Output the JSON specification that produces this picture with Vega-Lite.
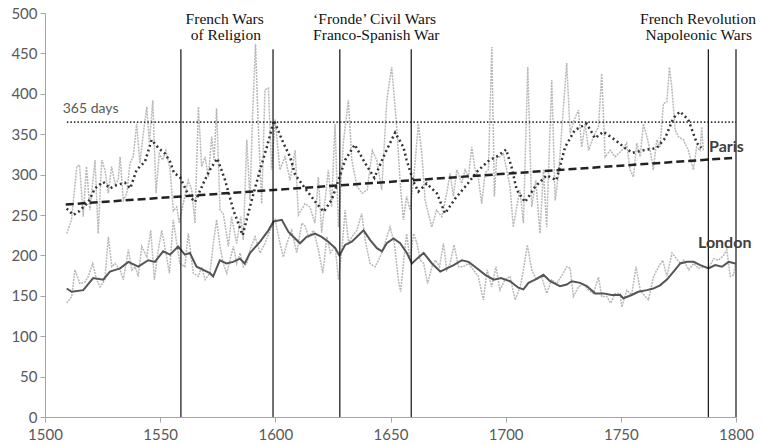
{
  "$schema": "https://vega.github.io/schema/vega-lite/v6.json",
  "width": 691,
  "height": 404,
  "autosize": "none",
  "padding": {"left": 45, "top": 13, "right": 28, "bottom": 28},
  "background": "white",
  "config": {
    "view": {"stroke": null},
    "axis": {"grid": false, "domainColor": "#a6a6a6", "tickColor": "#a6a6a6", "labelColor": "#595959", "labelFont": "Lato", "labelFontSize": 15, "title": null, "tickSize": 5, "labelPadding": 3, "labelFlush": false, "labelOverlap": false}
  },
  "datasets": {
    "parisAnnual": [
      {"year":1509.4,"value":227},{"year":1511.5,"value":244},{"year":1513.8,"value":310},{"year":1515,"value":312},{"year":1516.6,"value":248},{"year":1518,"value":310},{"year":1519.5,"value":256},{"year":1521.7,"value":318},{"year":1523.1,"value":227},{"year":1524.6,"value":318},{"year":1526,"value":306},{"year":1527.5,"value":277},{"year":1528.9,"value":310},{"year":1530.4,"value":289},{"year":1531.8,"value":293},{"year":1532.6,"value":322},{"year":1534,"value":268},{"year":1535.5,"value":277},{"year":1536.9,"value":314},{"year":1538.3,"value":322},{"year":1539.8,"value":363},{"year":1541.2,"value":314},{"year":1542.7,"value":351},{"year":1544.2,"value":384},{"year":1545.3,"value":339},{"year":1546.8,"value":392},{"year":1548.2,"value":277},{"year":1549.6,"value":326},{"year":1551.1,"value":318},{"year":1552.5,"value":330},{"year":1554.3,"value":306},{"year":1555.7,"value":255},{"year":1557.2,"value":260},{"year":1558.3,"value":240},{"year":1560,"value":264},{"year":1562.2,"value":293},{"year":1563.7,"value":281},{"year":1565.1,"value":240},{"year":1566.6,"value":384},{"year":1568,"value":310},{"year":1569.5,"value":322},{"year":1570.9,"value":297},{"year":1572.4,"value":347},{"year":1573.4,"value":318},{"year":1574.5,"value":382},{"year":1576,"value":256},{"year":1577.4,"value":252},{"year":1579.6,"value":211},{"year":1581,"value":248},{"year":1583.2,"value":215},{"year":1585,"value":248},{"year":1586.1,"value":219},{"year":1587.6,"value":343},{"year":1589,"value":269},{"year":1590.1,"value":372},{"year":1591.4,"value":462},{"year":1592.6,"value":359},{"year":1594.1,"value":264},{"year":1595.5,"value":405},{"year":1597,"value":407},{"year":1598.4,"value":306},{"year":1599.9,"value":368},{"year":1602,"value":306},{"year":1604.2,"value":322},{"year":1606.4,"value":293},{"year":1608.6,"value":330},{"year":1610,"value":250},{"year":1612.9,"value":264},{"year":1615,"value":260},{"year":1617.2,"value":240},{"year":1618.7,"value":297},{"year":1620.1,"value":228},{"year":1623,"value":306},{"year":1624.4,"value":260},{"year":1625.9,"value":363},{"year":1627.4,"value":235},{"year":1629.5,"value":339},{"year":1631.7,"value":392},{"year":1633.2,"value":318},{"year":1635.5,"value":285},{"year":1637.7,"value":277},{"year":1639.9,"value":281},{"year":1642.1,"value":330},{"year":1644,"value":318},{"year":1646.2,"value":281},{"year":1648.4,"value":392},{"year":1650.5,"value":433},{"year":1652.7,"value":359},{"year":1654.2,"value":290},{"year":1655.6,"value":244},{"year":1657,"value":273},{"year":1658.5,"value":256},{"year":1660,"value":293},{"year":1662.1,"value":363},{"year":1663.6,"value":326},{"year":1665,"value":269},{"year":1666.4,"value":252},{"year":1667.9,"value":235},{"year":1670,"value":256},{"year":1672.3,"value":248},{"year":1674.4,"value":277},{"year":1675.9,"value":302},{"year":1677.3,"value":273},{"year":1678.8,"value":306},{"year":1680.9,"value":289},{"year":1682.4,"value":306},{"year":1683.8,"value":297},{"year":1685.3,"value":334},{"year":1686.7,"value":306},{"year":1688.1,"value":297},{"year":1689.6,"value":264},{"year":1691.1,"value":302},{"year":1692.5,"value":306},{"year":1694,"value":458},{"year":1695.1,"value":273},{"year":1696.1,"value":322},{"year":1697.5,"value":322},{"year":1699,"value":326},{"year":1701.9,"value":285},{"year":1703.3,"value":235},{"year":1704.8,"value":260},{"year":1706.2,"value":281},{"year":1707.7,"value":240},{"year":1709.6,"value":433},{"year":1711.3,"value":260},{"year":1713.1,"value":293},{"year":1714.9,"value":227},{"year":1716.4,"value":306},{"year":1717.8,"value":235},{"year":1720,"value":417},{"year":1721.5,"value":268},{"year":1723,"value":302},{"year":1725,"value":380},{"year":1726.5,"value":438},{"year":1728,"value":351},{"year":1729.8,"value":368},{"year":1731.6,"value":380},{"year":1733,"value":334},{"year":1734.5,"value":363},{"year":1736,"value":330},{"year":1738.1,"value":347},{"year":1740.3,"value":359},{"year":1741.7,"value":425},{"year":1743.2,"value":322},{"year":1745.4,"value":330},{"year":1747.5,"value":322},{"year":1750.4,"value":330},{"year":1752.5,"value":339},{"year":1754,"value":306},{"year":1755.5,"value":297},{"year":1756.9,"value":339},{"year":1758.4,"value":322},{"year":1759.8,"value":363},{"year":1761.3,"value":347},{"year":1762.7,"value":330},{"year":1764.1,"value":306},{"year":1765.6,"value":343},{"year":1767,"value":334},{"year":1768.5,"value":388},{"year":1770,"value":390},{"year":1771.1,"value":433},{"year":1772.1,"value":409},{"year":1773.6,"value":355},{"year":1775,"value":347},{"year":1777.2,"value":343},{"year":1779.3,"value":330},{"year":1781.5,"value":306},{"year":1782.9,"value":334},{"year":1784.4,"value":330},{"year":1785.1,"value":359},{"year":1785.8,"value":330}
    ],
    "londonAnnual": [
      {"year":1509.4,"value":141},{"year":1511.6,"value":149},{"year":1513,"value":182},{"year":1515.2,"value":165},{"year":1517.4,"value":167},{"year":1518.8,"value":174},{"year":1520.7,"value":190},{"year":1522.4,"value":170},{"year":1523.9,"value":161},{"year":1526,"value":170},{"year":1527.5,"value":223},{"year":1529,"value":186},{"year":1530.4,"value":190},{"year":1532.6,"value":182},{"year":1534,"value":170},{"year":1536.2,"value":207},{"year":1537.7,"value":182},{"year":1539.1,"value":186},{"year":1540.5,"value":174},{"year":1542,"value":211},{"year":1544.2,"value":198},{"year":1545.9,"value":231},{"year":1547.5,"value":170},{"year":1549.2,"value":207},{"year":1550.7,"value":231},{"year":1552.5,"value":203},{"year":1554,"value":178},{"year":1555.7,"value":244},{"year":1557.2,"value":215},{"year":1558.6,"value":190},{"year":1560.7,"value":186},{"year":1562.2,"value":227},{"year":1564.4,"value":178},{"year":1566.6,"value":174},{"year":1568,"value":186},{"year":1569.5,"value":170},{"year":1571.6,"value":178},{"year":1573.1,"value":215},{"year":1574.5,"value":244},{"year":1576,"value":211},{"year":1577.4,"value":190},{"year":1578.9,"value":178},{"year":1580.3,"value":194},{"year":1581.8,"value":211},{"year":1583.2,"value":190},{"year":1584.7,"value":203},{"year":1586.1,"value":186},{"year":1587.6,"value":190},{"year":1589,"value":207},{"year":1591.2,"value":223},{"year":1593.4,"value":203},{"year":1595.5,"value":215},{"year":1597.7,"value":231},{"year":1599.9,"value":244},{"year":1602,"value":215},{"year":1603.5,"value":198},{"year":1605,"value":215},{"year":1607.1,"value":231},{"year":1609.3,"value":203},{"year":1611.5,"value":240},{"year":1613,"value":236},{"year":1614.4,"value":223},{"year":1616.6,"value":231},{"year":1618.7,"value":207},{"year":1620.6,"value":178},{"year":1622.4,"value":223},{"year":1623.9,"value":203},{"year":1626,"value":211},{"year":1627.4,"value":170},{"year":1628.9,"value":207},{"year":1630.3,"value":256},{"year":1631.8,"value":215},{"year":1633.2,"value":223},{"year":1635.4,"value":231},{"year":1637.5,"value":252},{"year":1639,"value":219},{"year":1641.1,"value":190},{"year":1643.3,"value":186},{"year":1645.5,"value":198},{"year":1647.6,"value":215},{"year":1649.8,"value":235},{"year":1651.7,"value":215},{"year":1653.4,"value":170},{"year":1654.4,"value":155},{"year":1655.9,"value":198},{"year":1657,"value":227},{"year":1658.5,"value":194},{"year":1660,"value":227},{"year":1661.5,"value":215},{"year":1662.9,"value":194},{"year":1664.4,"value":190},{"year":1666.1,"value":165},{"year":1668,"value":186},{"year":1669.5,"value":194},{"year":1671.3,"value":186},{"year":1673,"value":215},{"year":1674.4,"value":182},{"year":1675.9,"value":190},{"year":1677.6,"value":213},{"year":1679.5,"value":186},{"year":1681.6,"value":186},{"year":1683.8,"value":190},{"year":1686,"value":182},{"year":1688.1,"value":174},{"year":1690.3,"value":145},{"year":1692,"value":182},{"year":1693.9,"value":161},{"year":1695.8,"value":186},{"year":1697.5,"value":157},{"year":1699.7,"value":170},{"year":1701.9,"value":174},{"year":1704.1,"value":145},{"year":1706.3,"value":161},{"year":1707.7,"value":182},{"year":1709.4,"value":213},{"year":1711.3,"value":182},{"year":1713.4,"value":170},{"year":1715.6,"value":174},{"year":1717.8,"value":153},{"year":1720,"value":170},{"year":1722.1,"value":165},{"year":1725,"value":178},{"year":1726.5,"value":186},{"year":1728,"value":184},{"year":1729.4,"value":149},{"year":1731.6,"value":161},{"year":1733.7,"value":165},{"year":1735.9,"value":157},{"year":1738.1,"value":153},{"year":1740.3,"value":173},{"year":1741.7,"value":149},{"year":1743.9,"value":149},{"year":1745.6,"value":141},{"year":1747.5,"value":153},{"year":1749.7,"value":153},{"year":1750.4,"value":136},{"year":1752.6,"value":157},{"year":1754.7,"value":151},{"year":1756.6,"value":186},{"year":1758.4,"value":157},{"year":1760.6,"value":149},{"year":1762,"value":145},{"year":1764.2,"value":174},{"year":1766.4,"value":186},{"year":1768.2,"value":194},{"year":1770,"value":174},{"year":1772.2,"value":203},{"year":1773.6,"value":198},{"year":1775.8,"value":190},{"year":1777.3,"value":194},{"year":1779.5,"value":182},{"year":1781.6,"value":190},{"year":1783.8,"value":184},{"year":1786,"value":186},{"year":1788,"value":184},{"year":1790.3,"value":196},{"year":1792.4,"value":194},{"year":1794.6,"value":200},{"year":1796,"value":207},{"year":1797.5,"value":174},{"year":1799,"value":176},{"year":1799.7,"value":190}
    ],
    "parisMA": [
      {"year":1509.4,"value":258},{"year":1512.3,"value":250},{"year":1515,"value":255},{"year":1518.8,"value":266},{"year":1521.7,"value":283},{"year":1525.3,"value":291},{"year":1528.2,"value":283},{"year":1531,"value":287},{"year":1534.7,"value":290},{"year":1537,"value":283},{"year":1539.8,"value":306},{"year":1543.4,"value":316},{"year":1546.3,"value":343},{"year":1549.2,"value":333},{"year":1552.1,"value":326},{"year":1554.3,"value":316},{"year":1556,"value":302},{"year":1558.6,"value":297},{"year":1562.2,"value":275},{"year":1565.1,"value":266},{"year":1568.7,"value":289},{"year":1571.6,"value":306},{"year":1574.8,"value":320},{"year":1578.2,"value":293},{"year":1581.8,"value":256},{"year":1585.8,"value":225},{"year":1589.8,"value":269},{"year":1593.4,"value":306},{"year":1596.3,"value":334},{"year":1599.4,"value":367},{"year":1603.5,"value":339},{"year":1606.4,"value":322},{"year":1608.6,"value":300},{"year":1612.9,"value":283},{"year":1618,"value":264},{"year":1621,"value":254},{"year":1624.5,"value":269},{"year":1627.4,"value":293},{"year":1630.3,"value":318},{"year":1634.5,"value":337},{"year":1639,"value":314},{"year":1643,"value":296},{"year":1647.6,"value":326},{"year":1650.5,"value":343},{"year":1652,"value":352},{"year":1655.6,"value":334},{"year":1657,"value":318},{"year":1660,"value":291},{"year":1662.1,"value":279},{"year":1665.7,"value":289},{"year":1670.1,"value":277},{"year":1673.7,"value":252},{"year":1678,"value":270},{"year":1683,"value":287},{"year":1688,"value":305},{"year":1693,"value":318},{"year":1696,"value":322},{"year":1700.2,"value":331},{"year":1702.5,"value":310},{"year":1704.8,"value":281},{"year":1708.4,"value":266},{"year":1712.8,"value":285},{"year":1717.8,"value":299},{"year":1722,"value":293},{"year":1725.8,"value":334},{"year":1730,"value":355},{"year":1735.2,"value":363},{"year":1738.8,"value":345},{"year":1742.4,"value":353},{"year":1747.5,"value":343},{"year":1751.8,"value":333},{"year":1755,"value":327},{"year":1759.7,"value":330},{"year":1765.6,"value":333},{"year":1769.2,"value":345},{"year":1772.8,"value":370},{"year":1775.7,"value":378},{"year":1779.3,"value":368},{"year":1783,"value":339},{"year":1785,"value":333}
    ],
    "londonMA": [
      {"year":1509.4,"value":159},{"year":1511.6,"value":155},{"year":1516.6,"value":157},{"year":1520.9,"value":172},{"year":1525.3,"value":170},{"year":1528.2,"value":180},{"year":1532.6,"value":184},{"year":1536.2,"value":192},{"year":1540.5,"value":186},{"year":1544.8,"value":194},{"year":1547.7,"value":192},{"year":1551.3,"value":205},{"year":1554.3,"value":201},{"year":1557.8,"value":211},{"year":1560.7,"value":201},{"year":1562.9,"value":203},{"year":1565.8,"value":186},{"year":1568.7,"value":182},{"year":1571.6,"value":178},{"year":1573,"value":174},{"year":1575.9,"value":194},{"year":1578.8,"value":190},{"year":1581.7,"value":192},{"year":1584.6,"value":196},{"year":1586.7,"value":190},{"year":1589,"value":203},{"year":1593.4,"value":217},{"year":1597,"value":231},{"year":1599.2,"value":242},{"year":1602.8,"value":244},{"year":1605.7,"value":229},{"year":1607.8,"value":223},{"year":1610.7,"value":215},{"year":1613.6,"value":223},{"year":1617.2,"value":227},{"year":1620.1,"value":223},{"year":1623,"value":217},{"year":1626,"value":209},{"year":1627.8,"value":200},{"year":1630.3,"value":213},{"year":1633.2,"value":217},{"year":1636.1,"value":225},{"year":1638.3,"value":231},{"year":1641.2,"value":219},{"year":1644.1,"value":209},{"year":1646.3,"value":205},{"year":1648.4,"value":215},{"year":1651.3,"value":221},{"year":1654.2,"value":215},{"year":1657.1,"value":203},{"year":1659.3,"value":190},{"year":1661.5,"value":196},{"year":1664.4,"value":203},{"year":1668,"value":190},{"year":1671.6,"value":180},{"year":1674.5,"value":184},{"year":1677.4,"value":188},{"year":1681,"value":194},{"year":1683.9,"value":192},{"year":1687.5,"value":184},{"year":1691.1,"value":176},{"year":1694.8,"value":170},{"year":1698,"value":172},{"year":1701.9,"value":168},{"year":1705.5,"value":160},{"year":1707.7,"value":158},{"year":1709.9,"value":166},{"year":1712.8,"value":170},{"year":1716.4,"value":176},{"year":1719.3,"value":168},{"year":1723.6,"value":162},{"year":1726.5,"value":164},{"year":1728.7,"value":168},{"year":1732.3,"value":166},{"year":1735.2,"value":162},{"year":1738.8,"value":153},{"year":1742.4,"value":153},{"year":1746,"value":151},{"year":1749.7,"value":151},{"year":1751.1,"value":147},{"year":1754.7,"value":151},{"year":1757.6,"value":155},{"year":1761.3,"value":157},{"year":1764.1,"value":159},{"year":1767,"value":163},{"year":1770,"value":170},{"year":1772.9,"value":180},{"year":1775.8,"value":190},{"year":1778.7,"value":192},{"year":1781.6,"value":192},{"year":1784.5,"value":188},{"year":1788.1,"value":184},{"year":1791,"value":188},{"year":1793.9,"value":186},{"year":1796.8,"value":192},{"year":1799.7,"value":190}
    ],
    "trend": [{"year":1509,"value":263},{"year":1800,"value":321}],
    "days365": [{"year":1509.5,"value":365},{"year":1800,"value":365}],
    "wars": [{"year":1559,"bottom":0,"top":455},{"year":1599,"bottom":0,"top":455},{"year":1628,"bottom":0,"top":455},{"year":1659,"bottom":0,"top":455},{"year":1788,"bottom":0,"top":455},{"year":1800,"bottom":0,"top":455}],
    "titlesCenter": [
      {"year":1578,"value":487,"label":"French Wars"},
      {"year":1578.5,"value":466,"label":"of Religion"},
      {"year":1783.5,"value":487,"label":"French Revolution"},
      {"year":1783.8,"value":466,"label":"Napoleonic Wars"}
    ],
    "titlesLeft": [
      {"year":1616.4,"value":487,"label":"‘Fronde’ Civil Wars"},
      {"year":1616.4,"value":466,"label":"Franco-Spanish War"}
    ],
    "cityLabels": [
      {"year":1788.3,"value":328,"label":"Paris"},
      {"year":1783.5,"value":209,"label":"London"}
    ],
    "dayLabel": [{"year":1507.7,"value":376,"label":"365 days"}]
  },
  "layer": [
    {
      "data": {"name": "parisAnnual"},
      "mark": {"type": "line", "color": "#b8b8b8", "strokeWidth": 1.5, "strokeDash": [2, 1]},
      "encoding": {
        "x": {"field": "year", "type": "quantitative", "scale": {"domain": [1500, 1800], "nice": false, "zero": false}, "axis": {"values": [1500, 1550, 1600, 1650, 1700, 1750, 1800], "format": "d", "labelPadding": 5}},
        "y": {"field": "value", "type": "quantitative", "scale": {"domain": [0, 500], "nice": false}, "axis": {"values": [0, 50, 100, 150, 200, 250, 300, 350, 400, 450, 500]}}
      }
    },
    {
      "data": {"name": "londonAnnual"},
      "mark": {"type": "line", "color": "#b8b8b8", "strokeWidth": 1.5, "strokeDash": [2, 1]},
      "encoding": {"x": {"field": "year", "type": "quantitative"}, "y": {"field": "value", "type": "quantitative"}}
    },
    {
      "data": {"name": "londonMA"},
      "mark": {"type": "line", "color": "#555555", "strokeWidth": 2},
      "encoding": {"x": {"field": "year", "type": "quantitative"}, "y": {"field": "value", "type": "quantitative"}}
    },
    {
      "data": {"name": "parisMA"},
      "mark": {"type": "line", "color": "#333333", "strokeWidth": 2.5, "strokeDash": [2, 3]},
      "encoding": {"x": {"field": "year", "type": "quantitative"}, "y": {"field": "value", "type": "quantitative"}}
    },
    {
      "data": {"name": "trend"},
      "mark": {"type": "line", "color": "#222222", "strokeWidth": 2.5, "strokeDash": [8, 4]},
      "encoding": {"x": {"field": "year", "type": "quantitative"}, "y": {"field": "value", "type": "quantitative"}}
    },
    {
      "data": {"name": "days365"},
      "mark": {"type": "line", "color": "#333333", "strokeWidth": 1.6, "strokeDash": [1.5, 2]},
      "encoding": {"x": {"field": "year", "type": "quantitative"}, "y": {"field": "value", "type": "quantitative"}}
    },
    {
      "data": {"name": "wars"},
      "mark": {"type": "rule", "color": "#111111", "strokeWidth": 1.2},
      "encoding": {"x": {"field": "year", "type": "quantitative"}, "y": {"field": "bottom", "type": "quantitative"}, "y2": {"field": "top"}}
    },
    {
      "data": {"name": "titlesCenter"},
      "mark": {"type": "text", "font": "Liberation Serif", "fontSize": 15.5, "color": "#111111", "align": "center", "baseline": "alphabetic"},
      "encoding": {"x": {"field": "year", "type": "quantitative"}, "y": {"field": "value", "type": "quantitative"}, "text": {"field": "label", "type": "nominal"}}
    },
    {
      "data": {"name": "titlesLeft"},
      "mark": {"type": "text", "font": "Liberation Serif", "fontSize": 15.5, "color": "#111111", "align": "left", "baseline": "alphabetic"},
      "encoding": {"x": {"field": "year", "type": "quantitative"}, "y": {"field": "value", "type": "quantitative"}, "text": {"field": "label", "type": "nominal"}}
    },
    {
      "data": {"name": "cityLabels"},
      "mark": {"type": "text", "font": "Lato", "fontSize": 16, "fontWeight": "bold", "color": "#404040", "align": "left", "baseline": "alphabetic"},
      "encoding": {"x": {"field": "year", "type": "quantitative"}, "y": {"field": "value", "type": "quantitative"}, "text": {"field": "label", "type": "nominal"}}
    },
    {
      "data": {"name": "dayLabel"},
      "mark": {"type": "text", "font": "Lato", "fontSize": 14, "color": "#595959", "align": "left", "baseline": "alphabetic"},
      "encoding": {"x": {"field": "year", "type": "quantitative"}, "y": {"field": "value", "type": "quantitative"}, "text": {"field": "label", "type": "nominal"}}
    }
  ]
}
